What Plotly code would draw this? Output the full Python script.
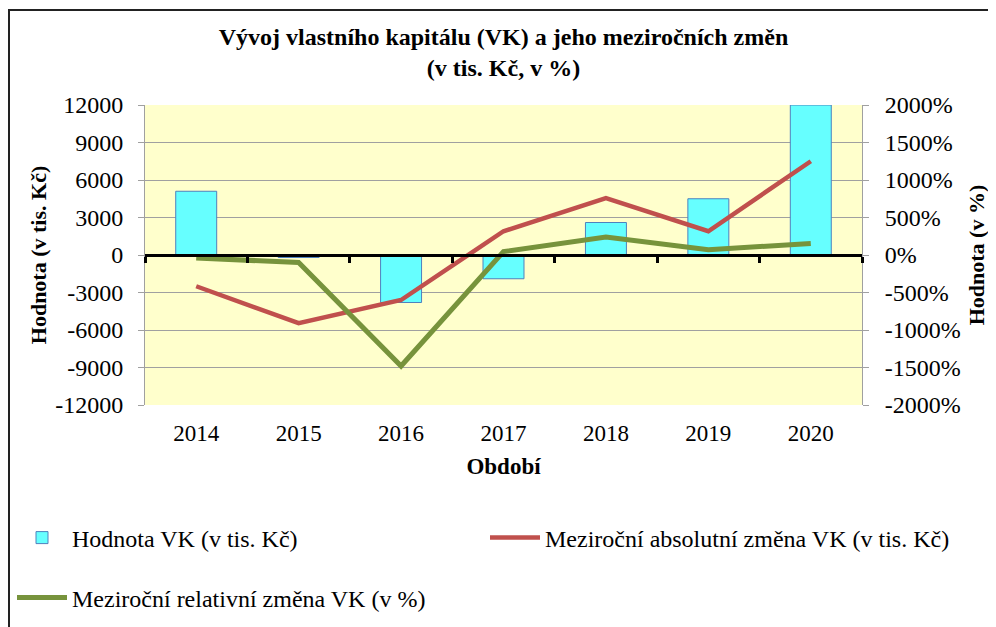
import plotly.graph_objects as go

years = ["2014", "2015", "2016", "2017", "2018", "2019", "2020"]
vk_value = [5100, -200, -3800, -1900, 2600, 4500, 12000]
abs_change = [-2500, -5450, -3600, 1900, 4550, 1900, 7500]
rel_change = [-40, -100, -1480, 45, 240, 70, 155]

y1_ticks = [-12000, -9000, -6000, -3000, 0, 3000, 6000, 9000, 12000]
y1_labels = ["-12000", "-9000", "-6000", "-3000", "0", "3000", "6000", "9000", "12000"]
y2_ticks = [-2000, -1500, -1000, -500, 0, 500, 1000, 1500, 2000]
y2_labels = ["-2000%", "-1500%", "-1000%", "-500%", "0%", "500%", "1000%", "1500%", "2000%"]

FONT = "Liberation Serif"
W, H = 996, 627
OFF = 8  # page body margin
# plot area in page pixels
PL, PR, PT, PB = 145, 862, 105, 405
L, R, T, B = PL - OFF, PR - OFF, PT - OFF, PB - OFF

def px_x(px):  # page px -> paper
    return (px - OFF - L) / (R - L)

def px_y(py):
    return (B - (py - OFF)) / (B - T)

fig = go.Figure()
fig.add_trace(go.Bar(
    x=years, y=vk_value, name="Hodnota VK (v tis. Kč)",
    marker=dict(color="#66FFFF", line=dict(color="#4F81BD", width=1)),
    width=0.4, legend="legend",
))
fig.add_trace(go.Scatter(
    x=years, y=abs_change, name="Meziroční absolutní změna VK (v tis. Kč)",
    mode="lines", line=dict(color="#C0504D", width=4.5), legend="legend2",
))
fig.add_trace(go.Scatter(
    x=years, y=rel_change, name="Meziroční relativní změna VK (v %)",
    mode="lines", line=dict(color="#77933C", width=5), yaxis="y2", legend="legend3",
))
# helper trace for the zero-level category axis with boundary ticks
fig.add_trace(go.Scatter(
    x=years, y=[0] * len(years), xaxis="x2", mode="lines",
    line=dict(width=0, color="rgba(0,0,0,0)"), showlegend=False, hoverinfo="skip",
))

tick_font = dict(family=FONT, size=24, color="black")
xtick_font = dict(family=FONT, size=23, color="black")
ytitle_font = dict(family=FONT, size=22, color="black", weight="bold")
xtitle_font = dict(family=FONT, size=23, color="black", weight="bold")
legend_font = dict(family=FONT, size=24, color="black")

def leg(xpx, ypx):
    return dict(
        orientation="h", x=px_x(xpx), xanchor="left", y=px_y(ypx), yanchor="middle",
        font=legend_font, bgcolor="rgba(0,0,0,0)", itemwidth=50,
    )

fig.update_layout(
    width=W, height=H,
    margin=dict(l=L, r=W - R, t=T, b=H - B, autoexpand=False),
    paper_bgcolor="white", plot_bgcolor="#FFFFCC",
    font=dict(family=FONT, size=23, color="black"),
    title=dict(
        text="Vývoj vlastního kapitálu (VK) a jeho meziročních změn<br>(v tis. Kč, v %)",
        font=dict(family=FONT, size=24, color="black", weight="bold"),
        x=(L + R) / 2 / W, xanchor="center", xref="container",
        y=1 - 37 / H, yanchor="middle", yref="container",
    ),
    xaxis=dict(
        type="category", showgrid=False, showline=False, ticks="",
        tickfont=xtick_font, ticklabelstandoff=12, automargin=False,
        title=dict(text="Období", font=xtitle_font, standoff=12),
        range=[-0.5, 6.5],
    ),
    xaxis2=dict(
        type="category", overlaying="x", anchor="free", position=0.5, side="bottom",
        showline=True, linecolor="black", linewidth=3,
        ticks="outside", tickson="boundaries", ticklen=6, tickwidth=3, tickcolor="black",
        showticklabels=False, showgrid=False, range=[-0.5, 6.5], layer="above traces",
        automargin=False,
    ),
    yaxis=dict(
        range=[-12000, 12000], tickvals=y1_ticks, ticktext=y1_labels, tickfont=tick_font,
        showgrid=True, gridcolor="#A0A0A0", gridwidth=1, zeroline=False,
        showline=True, linecolor="#A0A0A0", linewidth=1, automargin=False,
        ticks="outside", ticklen=6, tickcolor="#A0A0A0", ticklabelstandoff=10,
        title=dict(text="Hodnota (v tis. Kč)", font=ytitle_font, standoff=2),
    ),
    yaxis2=dict(
        range=[-2000, 2000], tickvals=y2_ticks, ticktext=y2_labels, tickfont=tick_font,
        overlaying="y", side="right", showgrid=False, zeroline=False,
        showline=True, linecolor="#A0A0A0", linewidth=1, automargin=False,
        ticks="outside", ticklen=6, tickcolor="#A0A0A0", ticklabelstandoff=11,
        title=dict(text="Hodnota (v %)", font=ytitle_font, standoff=8),
    ),
    legend=leg(12, 538),
    legend2=leg(485, 538),
    legend3=leg(12, 598),
    bargap=0.6,
    shapes=[
        dict(type="line", xref="paper", yref="paper", x0=px_x(8), x1=px_x(W + 20),
             y0=px_y(10), y1=px_y(10), line=dict(color="#222222", width=2)),
        dict(type="line", xref="paper", yref="paper", x0=px_x(9), x1=px_x(9),
             y0=px_y(10), y1=px_y(H + 20), line=dict(color="#222222", width=2)),
    ],
)

fig.write_html("out.html")
